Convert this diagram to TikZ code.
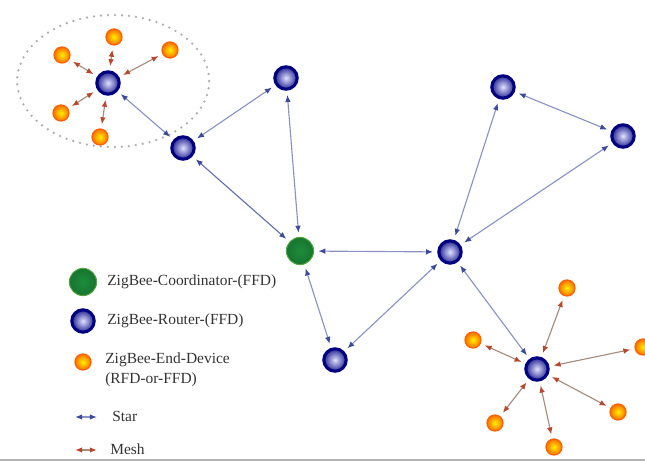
\documentclass[tikz,border=0pt]{standalone}
\usepackage{fontspec}
\setmainfont{Liberation Serif}
\usetikzlibrary{arrows.meta}
\definecolor{starLine}{HTML}{8A92C4}
\definecolor{starTip}{HTML}{3C4A9C}
\definecolor{meshLine}{HTML}{A38B7E}
\definecolor{meshTip}{HTML}{B9472C}
\definecolor{coordIn}{HTML}{1E8C3C}
\definecolor{coordOut}{HTML}{17742F}
\definecolor{coordRim}{HTML}{4FA53E}
\tikzset{
  routerNode/.style={circle, minimum size=0.56cm, inner sep=0pt, inner color=blue!12!white, outer color=blue!50!black!85, draw=blue!50!black, line width=2.2pt},
  coordNode/.style={circle, minimum size=0.68cm, inner sep=0pt, inner color=coordIn, outer color=coordOut, draw=coordRim, line width=0.7pt},
  endDev/.style={circle, minimum size=0.4cm, inner sep=0pt, inner color=yellow!90!orange, outer color=orange!85!red, draw=orange!75!red, line width=0.9pt},
  starLink/.style={draw=starLine, line width=0.8pt, <->, >={Latex[length=5pt,width=4pt,color=starTip]}, shorten >=3pt, shorten <=3pt},
  meshLink/.style={draw=meshLine, line width=0.8pt, <->, >={Latex[length=5pt,width=4pt,color=meshTip]}, shorten >=3pt, shorten <=3pt},
  legText/.style={anchor=west, inner sep=0pt, font=\fontsize{11}{14}\selectfont, text=black!80, align=left}
}
\begin{document}
\begin{tikzpicture}
	\useasboundingbox (0,0) rectangle (16.125,11.55);

	% star group in the dotted ring
	\draw[gray!65, line width=1.8pt, line cap=round, dash pattern=on 0pt off 5pt](2.83,9.525) ellipse (2.4cm and 1.65cm);
	\node[routerNode](starHub) at (2.70,9.475){};
	\node[endDev](starEndA) at (1.55,10.175){};
	\node[endDev](starEndB) at (2.85,10.625){};
	\node[endDev](starEndC) at (4.25,10.30){};
	\node[endDev](starEndD) at (1.525,8.725){};
	\node[endDev](starEndE) at (2.50,8.125){};

	% routers and coordinator
	\node[routerNode](routerA) at (4.575,7.85){};
	\node[routerNode](routerB) at (7.15,9.60){};
	\node[coordNode](coord) at (7.50,5.275){};
	\node[routerNode](routerC) at (11.25,5.25){};
	\node[routerNode](routerD) at (12.575,9.375){};
	\node[routerNode](routerE) at (15.575,8.15){};
	\node[routerNode](routerF) at (8.375,2.55){};
	\node[routerNode](meshHub) at (13.425,2.325){};

	% end devices round the lower hub
	\node[endDev](meshEndA) at (14.175,4.35){};
	\node[endDev](meshEndB) at (11.825,3.05){};
	\node[endDev](meshEndC) at (16.075,2.875){};
	\node[endDev](meshEndD) at (12.375,0.975){};
	\node[endDev](meshEndE) at (15.45,1.25){};
	\node[endDev](meshEndF) at (13.85,0.375){};

	\foreach \e in {A,B,C,D,E}{
		\draw[meshLink](starHub) -- (starEnd\e);
	}
	\foreach \e in {A,B,C,D,E,F}{
		\draw[meshLink](meshHub) -- (meshEnd\e);
	}

	\draw[starLink](starHub) -- (routerA);
	\draw[starLink](routerA) -- (routerB);
	\draw[starLink, draw=starTip!80](routerA) -- (coord);
	\draw[starLink](routerB) -- (coord);
	\draw[starLink](coord) -- (routerC);
	\draw[starLink](coord) -- (routerF);
	\draw[starLink](routerF) -- (routerC);
	\draw[starLink](routerC) -- (routerD);
	\draw[starLink](routerC) -- (routerE);
	\draw[starLink](routerD) -- (routerE);
	\draw[starLink](routerC) -- (meshHub);

	% legend
	\node[coordNode](legCoord) at (2.075,4.50){};
	\node[legText](legCoordText) at (2.675,4.50){ZigBee-Coordinator-(FFD)};
	\node[routerNode](legRouter) at (2.075,3.525){};
	\node[legText](legRouterText) at (2.675,3.525){ZigBee-Router-(FFD)};
	\node[endDev](legEnd) at (2.075,2.50){};
	\node[legText](legEndText) at (2.625,2.30){ZigBee-End-Device\\(RFD-or-FFD)};

	\coordinate(legStarA) at (1.88,1.125);
	\coordinate(legStarB) at (2.42,1.125);
	\draw[starLink, shorten >=0pt, shorten <=0pt](legStarA) -- (legStarB);
	\node[legText](legStarText) at (2.80,1.15){Star};
	\coordinate(legMeshA) at (1.88,0.30);
	\coordinate(legMeshB) at (2.42,0.30);
	\draw[meshLink, shorten >=0pt, shorten <=0pt](legMeshA) -- (legMeshB);
	\node[legText](legMeshText) at (2.75,0.32){Mesh};

	\draw[gray!60, line width=0.8pt](0,0.05) -- (16.125,0.05);
\end{tikzpicture}
\end{document}
